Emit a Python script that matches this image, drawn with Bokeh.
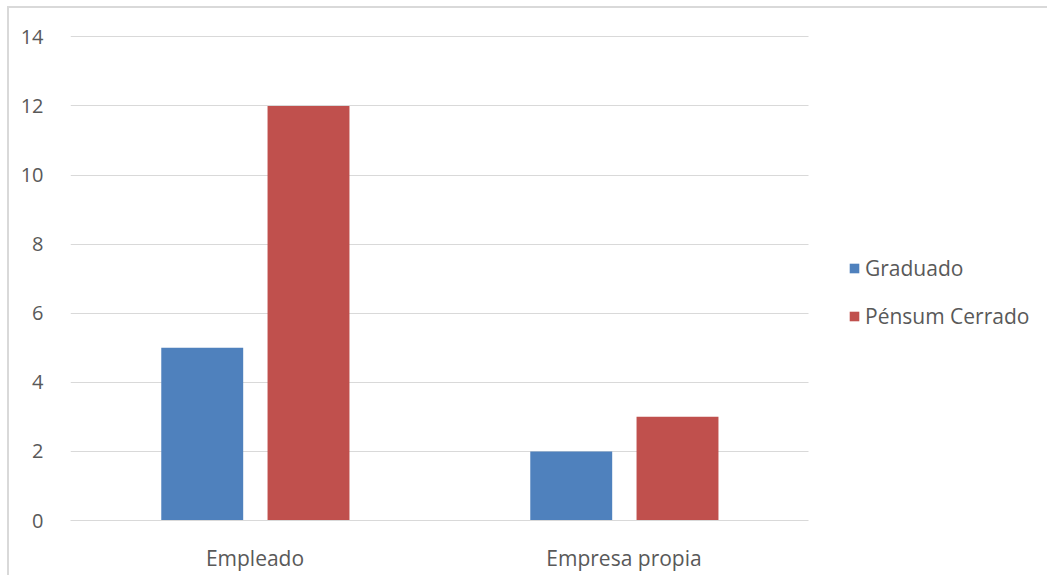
from bokeh.plotting import figure
from bokeh.models import ColumnDataSource, Range1d, Legend, LegendItem, FixedTicker
from bokeh.embed import file_html
from bokeh.resources import INLINE

categories = ["Empleado", "Empresa propia"]
graduado = [5, 2]
pensum = [12, 3]
series_names = ["Graduado", "Pénsum Cerrado"]
y_ticks = [0, 2, 4, 6, 8, 10, 12, 14]

n = len(categories)
centers = [i + 0.5 for i in range(n)]
source = ColumnDataSource(data=dict(
    cat=categories,
    xg=[c - 0.143 for c in centers],
    xp=[c + 0.145 for c in centers],
    graduado=graduado, pensum=pensum))

FONT = "Open Sans"
TXT = "#595959"
GRID = "#D9D9D9"

# frame spans page x 70..1049; categories occupy 70..808 (369 px per category)
x_end = n * 979 / 738

p = figure(width=1040, height=569, output_backend="svg", toolbar_location=None,
           x_range=Range1d(0, x_end), y_range=Range1d(0, 14.04),
           min_border_left=61, min_border_right=0, min_border_top=27, min_border_bottom=57)
p.styles = {"border-left": "2px solid #D9D9D9", "border-top": "2px solid #D9D9D9",
            "position": "absolute", "left": "7px", "top": "6px"}
p.outline_line_color = None
p.background_fill_color = "white"
p.border_fill_color = "white"

r1 = p.vbar(x="xg", top="graduado", width=0.222, source=source,
            fill_color="#4F81BD", line_color=None)
r2 = p.vbar(x="xp", top="pensum", width=0.222, source=source,
            fill_color="#C0504D", line_color=None)

p.yaxis.ticker = FixedTicker(ticks=y_ticks)
p.yaxis.axis_line_color = None
p.yaxis.major_tick_line_color = None
p.yaxis.minor_tick_line_color = None
p.yaxis.major_label_text_font = FONT
p.yaxis.major_label_text_font_size = "20px"
p.yaxis.major_label_text_color = TXT
p.yaxis.major_label_standoff = 21

p.xaxis.ticker = FixedTicker(ticks=centers)
p.xaxis.major_label_overrides = {c: lab for c, lab in zip(centers, categories)}
p.xaxis.bounds = (0, n)
p.xaxis.axis_line_color = GRID
p.xaxis.axis_line_width = 1
p.xaxis.major_tick_line_color = None
p.xaxis.minor_tick_line_color = None
p.xaxis.major_label_text_font = FONT
p.xaxis.major_label_text_font_size = "21px"
p.xaxis.major_label_text_color = TXT
p.xaxis.major_label_standoff = 17

p.xgrid.grid_line_color = None
p.ygrid.grid_line_color = GRID
p.ygrid.grid_line_width = 1
p.ygrid.ticker = FixedTicker(ticks=y_ticks)
p.ygrid.cross_bounds = (0, n)

legend = Legend(items=[LegendItem(label=series_names[0], renderers=[r1]),
                       LegendItem(label=series_names[1], renderers=[r2])],
                location=(778, 190), orientation="vertical",
                padding=0, margin=0, border_line_color=None, background_fill_alpha=0,
                glyph_width=12, glyph_height=12, label_standoff=5,
                label_height=24, spacing=20,
                label_text_font=FONT, label_text_font_size="21px", label_text_color=TXT)
p.add_layout(legend)

open("out.html", "w").write(file_html(p, INLINE))
